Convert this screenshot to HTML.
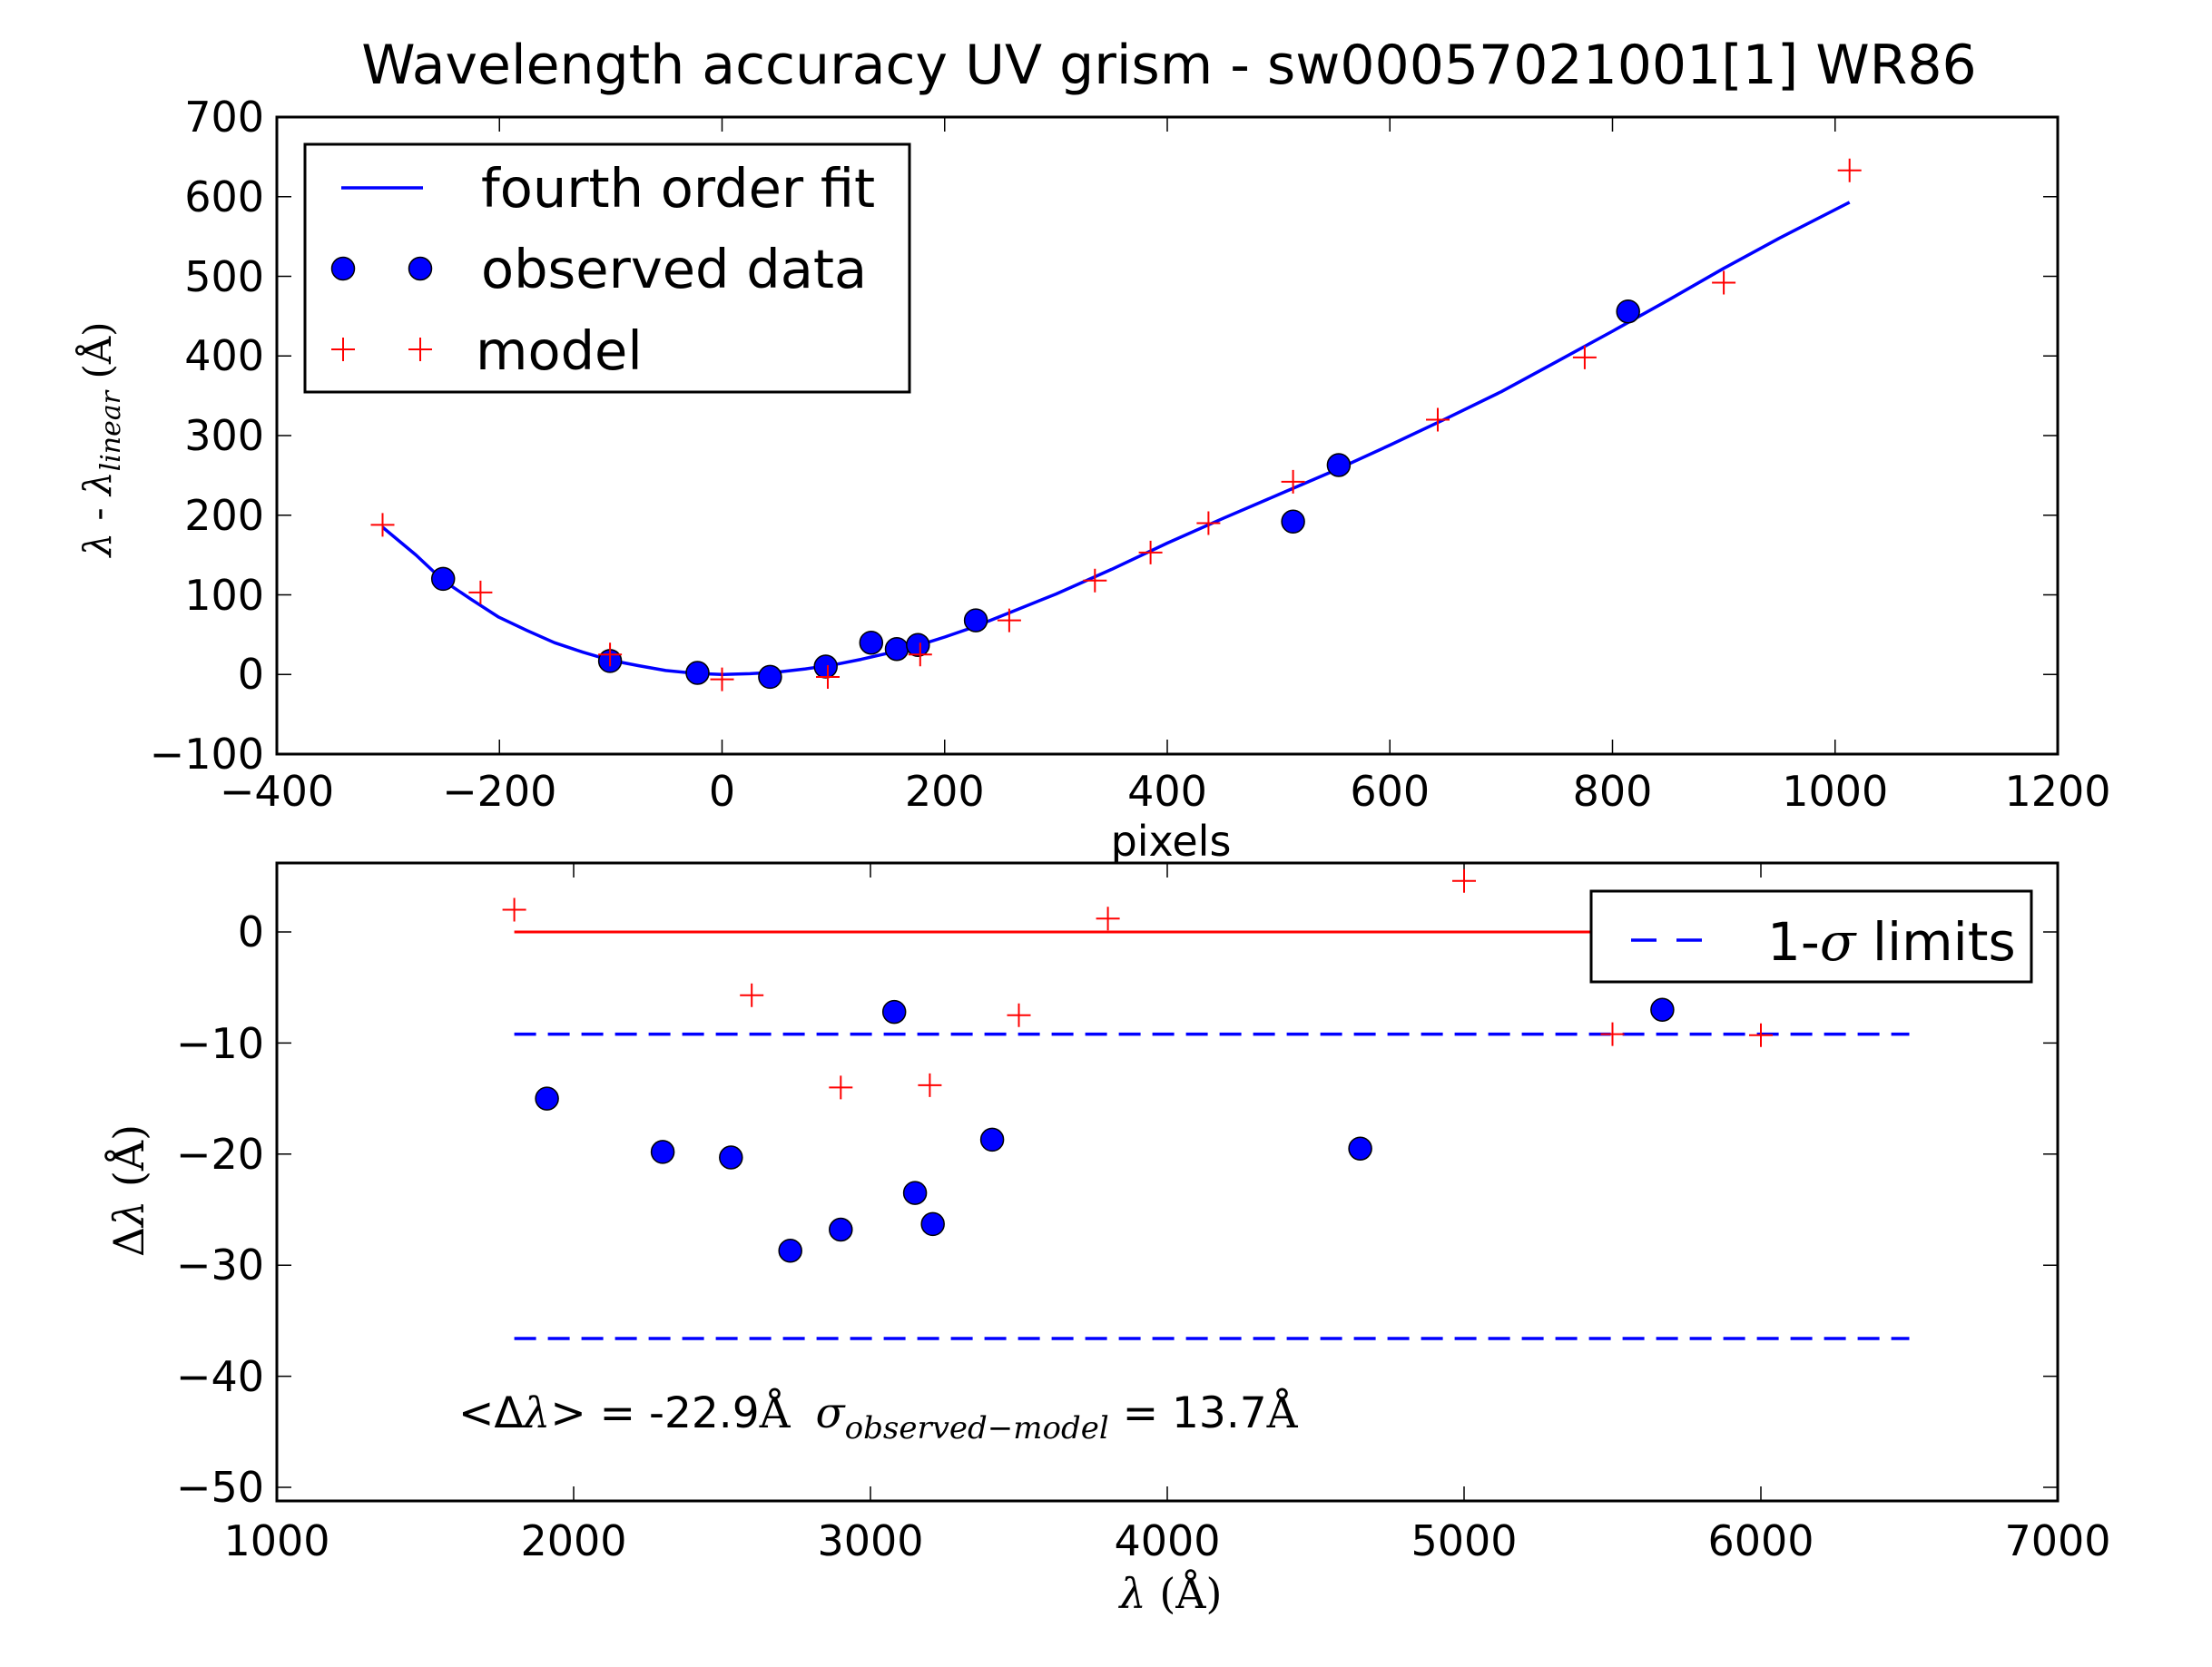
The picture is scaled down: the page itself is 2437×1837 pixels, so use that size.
<!DOCTYPE html>
<html><head><meta charset="utf-8"><style>html,body{margin:0;padding:0;background:#fff}svg{display:block}</style></head><body>
<svg width="2437" height="1837" viewBox="0 0 2437 1837" xmlns="http://www.w3.org/2000/svg" font-family="'DejaVu Sans','Liberation Sans',sans-serif">
<rect width="2437" height="1837" fill="#fff"/>
<text x="1288" y="92" font-size="60" text-anchor="middle">Wavelength accuracy UV grism - sw00057021001[1] WR86</text>

<!-- TOP AXES -->
<g stroke="#000" stroke-width="1.5">
<path d="M305,831v-16M550.25,831v-16M795.5,831v-16M1040.75,831v-16M1286,831v-16M1531.25,831v-16M1776.5,831v-16M2021.75,831v-16M2267,831v-16
M305,129v16M550.25,129v16M795.5,129v16M1040.75,129v16M1286,129v16M1531.25,129v16M1776.5,129v16M2021.75,129v16M2267,129v16
M305,831h16M305,743.25h16M305,655.5h16M305,567.75h16M305,480h16M305,392.25h16M305,304.5h16M305,216.75h16M305,129h16
M2267,831h-16M2267,743.25h-16M2267,655.5h-16M2267,567.75h-16M2267,480h-16M2267,392.25h-16M2267,304.5h-16M2267,216.75h-16M2267,129h-16"/>
</g>
<polyline fill="none" stroke="#0000ff" stroke-width="3.5" stroke-linejoin="round" points="421.5,581 458.3,611.6 488.2,639.7 519.6,660.8 549.5,680.1 580.9,694.9 610.8,708.2 642.2,718.7 672.1,727.5 703.8,733.6 733.4,738.9 765.1,742 795.5,743.3 826.2,742.4 856.8,740.6 887.4,737.1 918.1,732.7 948.7,726.6 979.4,719.6 1010.1,711.7 1040.8,702 1071.4,691.5 1102.1,679.2 1163.4,654.6 1224.7,627.4 1286,598.5 1347.3,571.3 1408.6,545 1470,518.6 1531.3,490.5 1592.6,461.6 1653.9,431.7 1715.2,398.4 1776.5,365 1837.8,330.8 1899.1,295.7 1960.4,262.4 2037.7,222.9"/>
<g fill="#0000ff" stroke="#000" stroke-width="1.5">
<circle cx="488.2" cy="637.9" r="12.5"/><circle cx="672.1" cy="728.4" r="12.5"/><circle cx="768.5" cy="741.5" r="12.5"/><circle cx="848.4" cy="745.9" r="12.5"/><circle cx="909.7" cy="734.5" r="12.5"/><circle cx="959.8" cy="708.2" r="12.5"/><circle cx="988" cy="715.2" r="12.5"/><circle cx="1011.3" cy="710.8" r="12.5"/><circle cx="1075.1" cy="683.6" r="12.5"/><circle cx="1424.6" cy="574.8" r="12.5"/><circle cx="1474.9" cy="512.5" r="12.5"/><circle cx="1793.7" cy="343.2" r="12.5"/>
</g>
<g stroke="#ff0000" stroke-width="2">
<path d="M408.5,578.4h26M421.5,565.4v26 M516.4,652.9h26M529.4,639.9v26 M659.1,721.3h26M672.1,708.3v26 M782.5,748.6h26M795.5,735.6v26 M899,746h26M912,733v26 M1000.8,721.3h26M1013.8,708.3v26 M1098.9,683.6h26M1111.9,670.6v26 M1193.3,639.7h26M1206.3,626.7v26 M1254.6,608.9h26M1267.6,595.9v26 M1318.4,576.5h26M1331.4,563.5v26 M1411.6,530.9h26M1424.6,517.9v26 M1571,462.5h26M1584,449.5v26 M1732.9,393.9h26M1745.9,380.9v26 M1886.1,311.5h26M1899.1,298.5v26 M2024.7,187.8h26M2037.7,174.8v26"/>
</g>
<rect x="305" y="129" width="1962" height="702" fill="none" stroke="#000" stroke-width="3"/>
<!-- top legend -->
<rect x="336" y="159" width="666" height="273" fill="#fff" stroke="#000" stroke-width="3"/>
<line x1="376" y1="207" x2="466" y2="207" stroke="#0000ff" stroke-width="3.5"/>
<circle cx="378" cy="296" r="12.5" fill="#0000ff" stroke="#000" stroke-width="1.5"/>
<circle cx="463" cy="296" r="12.5" fill="#0000ff" stroke="#000" stroke-width="1.5"/>
<path d="M365,385h26M378,372v26M450,385h26M463,372v26" stroke="#ff0000" stroke-width="2"/>
<g font-size="59"><text x="530" y="228">fourth order fit</text><text x="530" y="317">observed data</text><text x="524" y="407">model</text></g>
<!-- top tick labels -->
<g font-size="46" text-anchor="middle">
<text x="305" y="888">−400</text><text x="550.25" y="888">−200</text><text x="795.5" y="888">0</text><text x="1040.75" y="888">200</text><text x="1286" y="888">400</text><text x="1531.25" y="888">600</text><text x="1776.5" y="888">800</text><text x="2021.75" y="888">1000</text><text x="2267" y="888">1200</text>
</g>
<g font-size="46" text-anchor="end">
<text x="291" y="847">−100</text><text x="291" y="759">0</text><text x="291" y="672">100</text><text x="291" y="584">200</text><text x="291" y="496">300</text><text x="291" y="408">400</text><text x="291" y="321">500</text><text x="291" y="233">600</text><text x="291" y="145">700</text>
</g>
<text x="1290" y="943" font-size="46" text-anchor="middle">pixels</text>
<text transform="translate(122,484) rotate(-90)" font-size="42" text-anchor="middle" font-family="'DejaVu Serif','Liberation Serif',serif"><tspan font-style="italic">λ</tspan> - <tspan font-style="italic">λ</tspan><tspan font-style="italic" font-size="30" dy="10">linear</tspan><tspan dy="-10">   (Å)</tspan></text>

<!-- BOTTOM AXES -->
<g stroke="#000" stroke-width="1.5">
<path d="M305,1654v-16M632,1654v-16M959,1654v-16M1286,1654v-16M1613,1654v-16M1940,1654v-16M2267,1654v-16
M305,951v16M632,951v16M959,951v16M1286,951v16M1613,951v16M1940,951v16M2267,951v16
M305,1027h16M305,1149.4h16M305,1271.8h16M305,1394.2h16M305,1516.6h16M305,1639h16
M2267,1027h-16M2267,1149.4h-16M2267,1271.8h-16M2267,1394.2h-16M2267,1516.6h-16M2267,1639h-16"/>
</g>
<line x1="566.6" y1="1027" x2="2103.5" y2="1027" stroke="#ff0000" stroke-width="3"/>
<line x1="566.6" y1="1139.6" x2="2103.5" y2="1139.6" stroke="#0000ff" stroke-width="3.5" stroke-dasharray="24 13"/>
<line x1="566.6" y1="1475" x2="2103.5" y2="1475" stroke="#0000ff" stroke-width="3.5" stroke-dasharray="24 13"/>
<g stroke="#ff0000" stroke-width="2">
<path d="M553.6,1002.5h26M566.6,989.5v26 M815.2,1096.8h26M828.2,1083.8v26 M913.3,1198.4h26M926.3,1185.4v26 M1011.4,1195.9h26M1024.4,1182.9v26 M1109.5,1118.8h26M1122.5,1105.8v26 M1207.6,1012.3h26M1220.6,999.3v26 M1600,970.7h26M1613,957.7v26 M1763.5,1139.6h26M1776.5,1126.6v26 M1927,1140.8h26M1940,1127.8v26"/>
</g>
<g fill="#0000ff" stroke="#000" stroke-width="1.5">
<circle cx="602.6" cy="1210.6" r="12.5"/><circle cx="730.1" cy="1269.4" r="12.5"/><circle cx="805.3" cy="1275.5" r="12.5"/><circle cx="870.7" cy="1378.3" r="12.5"/><circle cx="926.3" cy="1355" r="12.5"/><circle cx="985.2" cy="1115.1" r="12.5"/><circle cx="1008.1" cy="1314.6" r="12.5"/><circle cx="1027.7" cy="1348.9" r="12.5"/><circle cx="1093.1" cy="1255.9" r="12.5"/><circle cx="1498.6" cy="1265.7" r="12.5"/><circle cx="1831.4" cy="1112.7" r="12.5"/>
</g>
<rect x="305" y="951" width="1962" height="703" fill="none" stroke="#000" stroke-width="3"/>
<rect x="1753" y="982" width="485" height="100" fill="#fff" stroke="#000" stroke-width="3"/>
<line x1="1797" y1="1036" x2="1875" y2="1036" stroke="#0000ff" stroke-width="3.5" stroke-dasharray="28 22"/>
<text x="1947" y="1058" font-size="58">1-<tspan font-family="'DejaVu Serif','Liberation Serif',serif" font-style="italic">σ</tspan> limits</text>
<text x="505" y="1573" font-size="47">&lt;Δ<tspan font-family="'DejaVu Serif','Liberation Serif',serif" font-style="italic">λ</tspan>&gt; = -22.9<tspan font-family="'DejaVu Serif','Liberation Serif',serif">Å</tspan><tspan dx="28" font-family="'DejaVu Serif','Liberation Serif',serif" font-style="italic">σ</tspan><tspan font-family="'DejaVu Serif','Liberation Serif',serif" font-style="italic" font-size="34" dy="12">observed−model</tspan><tspan dy="-12"> = 13.7</tspan><tspan font-family="'DejaVu Serif','Liberation Serif',serif">Å</tspan></text>
<g font-size="46" text-anchor="middle">
<text x="305" y="1714">1000</text><text x="632" y="1714">2000</text><text x="959" y="1714">3000</text><text x="1286" y="1714">4000</text><text x="1613" y="1714">5000</text><text x="1940" y="1714">6000</text><text x="2267" y="1714">7000</text>
</g>
<g font-size="46" text-anchor="end">
<text x="291" y="1043">0</text><text x="291" y="1166">−10</text><text x="291" y="1288">−20</text><text x="291" y="1410">−30</text><text x="291" y="1533">−40</text><text x="291" y="1655">−50</text>
</g>
<text x="1290" y="1772" font-size="46" text-anchor="middle" font-family="'DejaVu Serif','Liberation Serif',serif"><tspan font-style="italic">λ</tspan> (Å)</text>
<text transform="translate(158,1312) rotate(-90)" font-size="46" text-anchor="middle" font-family="'DejaVu Serif','Liberation Serif',serif">Δ<tspan font-style="italic">λ</tspan> (Å)</text>
</svg>
</body></html>
